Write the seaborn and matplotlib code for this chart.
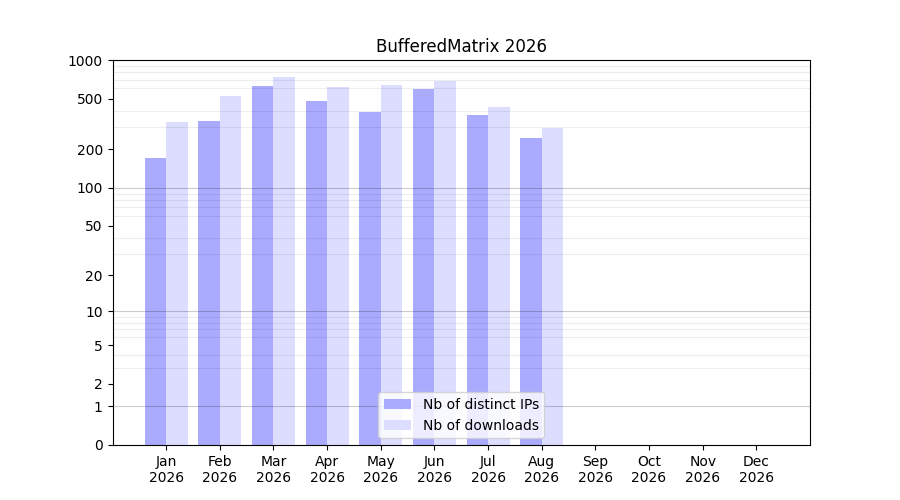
import matplotlib
matplotlib.use('Agg')
import matplotlib.pyplot as plt
import seaborn as sns
import pandas as pd
import numpy as np


meses = ['Jan', 'Feb', 'Mar', 'Apr', 'May', 'Jun',
         'Jul', 'Aug', 'Sep', 'Oct', 'Nov', 'Dec']
meses_com_dados = ['Jan', 'Feb', 'Mar', 'Apr', 'May', 'Jun', 'Jul', 'Aug']
ips = [170, 337, 622, 475, 390, 590, 369, 244]
downloads = [331, 520, 732, 611, 634, 681, 427, 292]
ano = 2026

rotulo_ips = 'Nb of distinct IPs'
rotulo_dl = 'Nb of downloads'
yticks = [0, 1, 2, 5, 10, 20, 50, 100, 200, 500, 1000]

df = pd.DataFrame({
    'Mes': meses_com_dados * 2,
    'Valor': ips + downloads,
    'Serie': [rotulo_ips] * len(ips) + [rotulo_dl] * len(downloads),
})

fig, ax = plt.subplots(figsize=(9, 5), dpi=100)

sns.barplot(
    data=df, x='Mes', y='Valor', hue='Serie', order=meses,
    hue_order=[rotulo_ips, rotulo_dl],
    palette={rotulo_ips: '#aaaaff', rotulo_dl: '#ddddff'},
    saturation=1, linewidth=0, width=0.8, errorbar=None, ax=ax
)

# escala log(x+1) para aceitar o zero
ax.set_yscale('function', functions=(lambda v: np.log10(np.clip(v, 0, None) + 1),
                                     lambda v: 10 ** v - 1))
ax.set_ylim(0, 1000)
ax.set_yticks(yticks)
ax.set_yticklabels([str(t) for t in yticks])

menores = [m * d for d in (1, 10, 100) for m in range(1, 10)]
ax.set_yticks(menores, minor=True)
ax.tick_params(axis='y', which='minor', length=0)
ax.grid(False)
ax.set_axisbelow(False)
ax.grid(axis='y', which='minor', color='black', alpha=0.07, linewidth=0.8)
for v in (1, 10, 100):
    ax.axhline(v, color='black', alpha=0.2, linewidth=0.8, zorder=3)

ax.set_xlim(-1, 12)
ax.set_xticks(range(len(meses)))
ax.set_xticklabels([f'{m}\n{ano}' for m in meses])
ax.set_xlabel('')
ax.set_ylabel('')
ax.set_title(f'BufferedMatrix {ano}')

handles, labels = ax.get_legend_handles_labels()
ax.legend(handles, labels, loc='lower center', title=None)

plt.savefig('out.png', dpi=100)
